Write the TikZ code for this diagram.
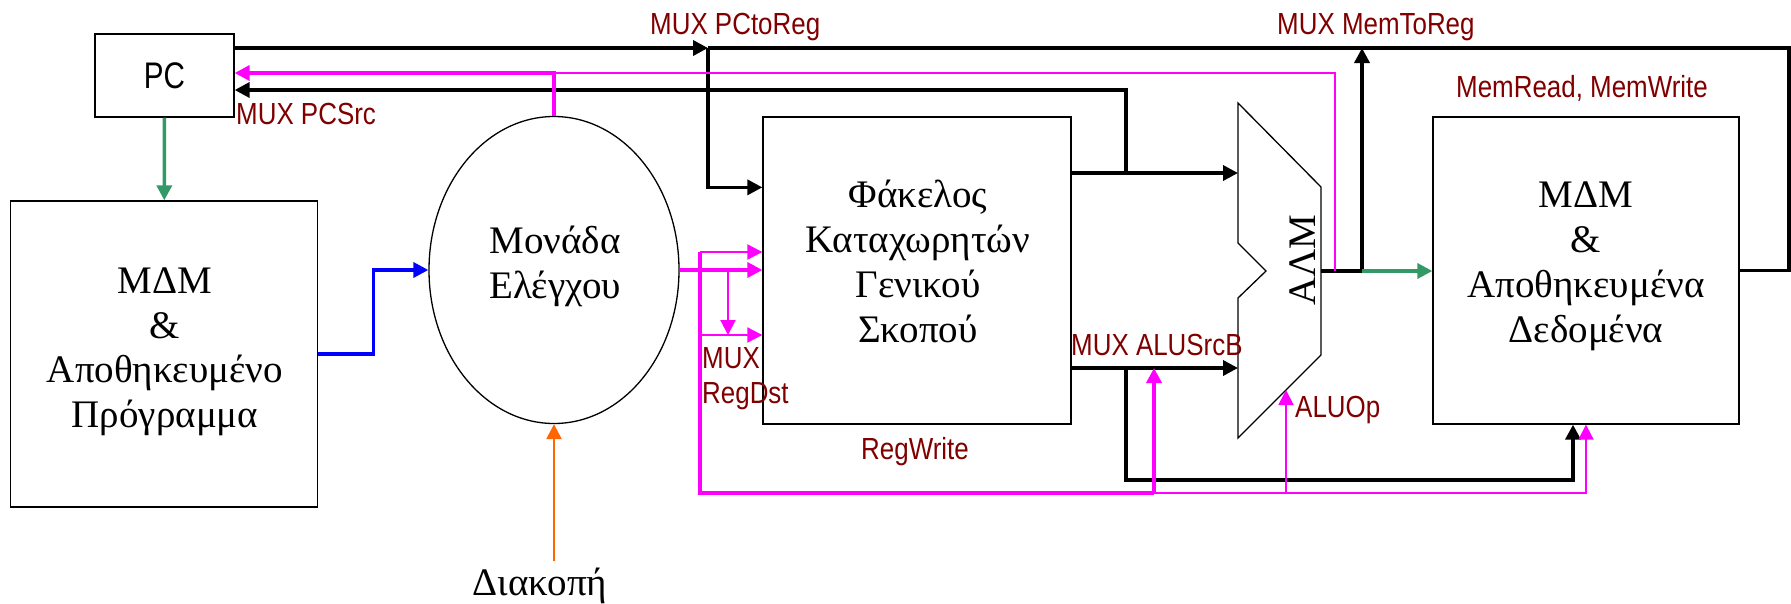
\documentclass[tikz,border=0pt]{standalone}
\usepackage{fontspec}
\setmainfont{Liberation Serif}
\newfontfamily\lblfont[FakeStretch=0.85]{Liberation Sans}
\newfontfamily\pcfont[FakeStretch=0.8]{Liberation Sans}
\usetikzlibrary{arrows.meta,shapes.geometric,calc}
\definecolor{mag}{HTML}{FF00FF}
\definecolor{lblred}{HTML}{800000}
\definecolor{grn}{HTML}{339966}
\definecolor{blu}{HTML}{0000FF}
\definecolor{org}{HTML}{FF6600}
\begin{document}
\begin{tikzpicture}[x=1pt,y=-1pt,line join=miter,
  box/.style={draw,line width=1.3pt,rectangle,inner sep=0pt},
  bus/.style={line width=3.5pt,black},
  tip/.style={-{Triangle[length=15pt,width=15pt]}},
  pk/.style={mag,line width=#1},
  lbl/.style={text=lblred,font=\lblfont\fontsize{30.5}{36}\selectfont,inner sep=0pt},
  big/.style={font=\fontsize{39}{45}\selectfont,inner sep=0pt}]
\useasboundingbox (0,0) rectangle (1791,603);

% blocks
\node[box,minimum width=139pt,minimum height=83pt,font=\pcfont\fontsize{37}{40}\selectfont] (pc) at (164.5,75.5) {PC};
\node[box,minimum width=307pt,minimum height=306pt] (pm) at (164.3,354) {};
\node[box,minimum width=308pt,minimum height=307pt] (rf) at (917,270.5) {};
\node[box,minimum width=306pt,minimum height=307pt] (dm) at (1586,270.5) {};
\node[draw,ellipse,line width=1.3pt,minimum width=250pt,minimum height=307pt,inner sep=0pt] (cu) at (554,270) {};

% texts in blocks
\node[big,anchor=base] (pm1) at (165,293) {ΜΔΜ};
\node[big,anchor=base] (pm2) at (165,338) {\&};
\node[big,anchor=base] (pm3) at (165,382) {Αποθηκευμένο};
\node[big,anchor=base] (pm4) at (165,427) {Πρόγραμμα};
\node[big,anchor=base] (cu1) at (555,253) {Μονάδα};
\node[big,anchor=base] (cu2) at (555,298) {Ελέγχου};
\node[big,anchor=base] (rf1) at (918,207) {Φάκελος};
\node[big,anchor=base] (rf2) at (918,252) {Καταχωρητών};
\node[big,anchor=base] (rf3) at (918,297) {Γενικού};
\node[big,anchor=base] (rf4) at (918,342) {Σκοπού};
\node[big,anchor=base] (dm1) at (1586,207) {ΜΔΜ};
\node[big,anchor=base] (dm2) at (1586,252) {\&};
\node[big,anchor=base] (dm3) at (1586,297) {Αποθηκευμένα};
\node[big,anchor=base] (dm4) at (1586,342) {Δεδομένα};
\node[big,anchor=base] (intr) at (540,595) {Διακοπή};
\node[big,anchor=base,rotate=90] (alut) at (1315,260) {ΑΛΜ};

% coordinates
\coordinate (ytop) at (0,48);
\coordinate (yp) at (0,73);
\coordinate (yb) at (0,90);
\coordinate (pctoreg) at (708,48);
\coordinate (ain1) at (1238,173);
\coordinate (ain2) at (1238,368);
\coordinate (j1) at (1126,173);
\coordinate (j2) at (1126,368);
\coordinate (yb2) at (0,480);
\coordinate (aout) at (1321,271);
\coordinate (m2r) at (1362,271);
\coordinate (zf) at (1335,271);
\coordinate (xr) at (1789,0);
\coordinate (pv) at (700,252);
\coordinate (pb) at (700,493);
\coordinate (ps) at (1154,493);
\coordinate (aluop) at (1286,390);
\coordinate (aluopb) at (1286,493);
\coordinate (pd) at (728,271);
\coordinate (yrd) at (0,335);
\coordinate (dmb) at ($(dm.south)+(-13,0)$);

% ALU shape
\draw[line width=1.3pt] (1238,103) -- (1321,187) -- (1321,355) -- (1238,438) -- (1238,298) -- (1266,271) -- (1238,243) -- cycle;

% black buses
\draw[bus,tip] (pc.east |- ytop) -- (pctoreg);
\draw[bus] (pctoreg) -| (xr |- dm.east) -- (dm.east);
\draw[bus,tip] (pctoreg) |- ($(rf.north west)+(0,71)$);
\draw[bus,tip] (j1) |- (pc.east |- yb);
\draw[bus,tip] (rf.east |- ain1) -- (ain1);
\draw[bus,tip] (rf.east |- ain2) -- (ain2);
\draw[bus,tip] (j2) |- (dmb |- yb2) -- (dmb);
\draw[bus] (aout) -- (m2r);
\draw[bus,tip] (m2r) -- (m2r |- ytop);
\draw[grn,line width=3.5pt,tip] (m2r) -- (dm.west |- m2r);

% green, blue, orange
\draw[grn,line width=3.5pt,tip] (pc.south) -- (pm.north);
\draw[blu,line width=3.5pt,tip] (pm.east) -- ++(55,0) |- (cu.west);
\draw[org,line width=2.4pt,tip] ($(cu.south |- intr.north)+(0,-6)$) -- (cu.south);

% pink control lines
\draw[pk=1.3pt] (zf) |- (cu.north |- yp);
\draw[pk=3.5pt,tip] (cu.north) |- (pc.east |- yp);
\draw[pk=1.8pt,tip] (ps) -| (dm.south);
\draw[pk=1.8pt,tip] (aluopb) -- (aluop);
\draw[pk=3.5pt,tip] (cu.east) -- (rf.west |- cu.east);
\draw[pk=2pt,tip] (pv) -- (rf.west |- pv);
\draw[pk=2pt,tip] (pv |- yrd) -- (rf.west |- yrd);
\draw[pk=2pt,tip] (pd) -- (pd |- yrd);
\draw[pk=4pt] (pv) -- (pb) -- (ps);
\draw[pk=3.5pt,tip] (ps) -- (ps |- ain2);

% labels
\node[lbl,anchor=base west] (lpcsrc) at (236,124) {MUX PCSrc};
\node[lbl,anchor=base west] (lpctoreg) at (650,34) {MUX PCtoReg};
\node[lbl,anchor=base west] (lmemtoreg) at (1277,34) {MUX MemToReg};
\node[lbl,anchor=base west] (lmemrw) at (1456,97) {MemRead, MemWrite};
\node[lbl,anchor=base west] (lrd1) at (702,368) {MUX};
\node[lbl,anchor=base west] (lrd2) at (702,403) {RegDst};
\node[lbl,anchor=base west] (lregw) at (861,459) {RegWrite};
\node[lbl,anchor=base west] (lsrcb) at (1071,355) {MUX ALUSrcB};
\node[lbl,anchor=base west] (laluop) at (1295,417) {ALUOp};
\end{tikzpicture}
\end{document}
